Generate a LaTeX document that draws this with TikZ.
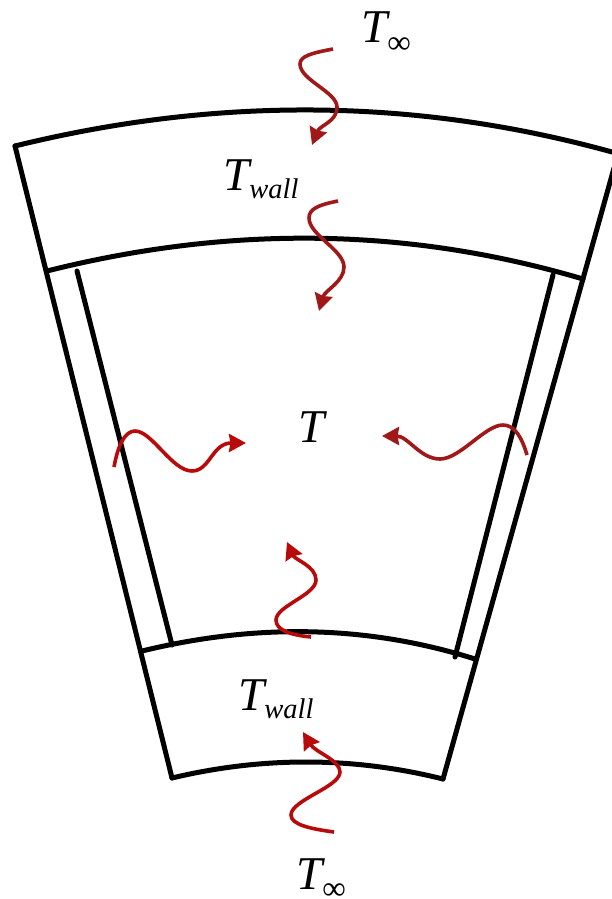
\documentclass[tikz,border=0pt]{standalone}
\usepackage{fontspec}
\setmainfont{Liberation Serif}
\usetikzlibrary{arrows.meta}
\tikzset{
  wall/.style={draw=black,line width=5pt,line cap=round,line join=miter},
  heat/.style={draw=heatred,line width=3.6pt,-{Stealth[length=17pt,width=18pt,inset=1.5pt]}},
  heatdark/.style={heat,draw=heatdark},
  lbl/.style={anchor=base west,inner sep=0pt,font=\fontsize{47}{47}\selectfont\itshape}
}
\definecolor{heatred}{HTML}{B80A0A}
\definecolor{heatdark}{HTML}{A01818}
\newcommand{\subtxt}[1]{\raisebox{-8pt}{\fontsize{28.5}{28.5}\selectfont #1}}
\newcommand{\subinf}{\raisebox{-10.5pt}{\fontsize{33}{33}\selectfont\upshape ∞}}
\begin{document}
\begin{tikzpicture}[x=1pt,y=-1pt]
\useasboundingbox (0,0) rectangle (612,899);
\clip (0,0) rectangle (612,899);
% named corners
\coordinate (oTL) at (15,146);
\coordinate (oTR) at (612,152);
\coordinate (iTL) at (47,271);
\coordinate (iTR) at (583,279);
\coordinate (lTL) at (142,651);
\coordinate (lTR) at (475,659);
\coordinate (bL) at (172,778);
\coordinate (bR) at (443,779);
\coordinate (rTop) at (614,168);
% walls
\draw[wall] (oTL) .. controls (214,97) and (413,97) .. (oTR);
\draw[wall] (iTL) .. controls (226,226) and (404,226) .. (iTR);
\draw[wall] (lTL) .. controls (253,624) and (364,624) .. (lTR);
\draw[wall] (bL) .. controls (262,756.5) and (353,756.5) .. (bR);
\draw[wall] (oTL) -- (bL);
\draw[wall] (rTop) -- (bR);
\coordinate (liT) at (77,271);
\coordinate (liB) at (172,645);
\coordinate (riT) at (553,275);
\coordinate (riB) at (455,657);
\draw[wall] (liT) -- (liB);
\draw[wall] (riT) -- (riB);
% heat arrows
\coordinate (a1s) at (333,49); \coordinate (a1e) at (312,145);
\draw[heatdark] (a1s) .. controls (312,53) and (300,56) .. (300,64)
  .. controls (300,80) and (337,92) .. (337,107)
  .. controls (337,122) and (320,125) .. (a1e);
\coordinate (a2s) at (338,201); \coordinate (a2e) at (319,311);
\draw[heatdark] (a2s) .. controls (318,205) and (309,209) .. (309,218)
  .. controls (309,235) and (344,250) .. (344,267)
  .. controls (344,282) and (325,290) .. (a2e);
\coordinate (a3s) at (114,467); \coordinate (a3e) at (246,443);
\draw[heat] (a3s) .. controls (118,445) and (125,431) .. (135,431)
  .. controls (152,431) and (172,471) .. (192,471)
  .. controls (210,471) and (212,443) .. (a3e);
\coordinate (a4s) at (527,455); \coordinate (a4e) at (382,436);
\draw[heatdark] (a4s) .. controls (522,438) and (515,425) .. (503,425)
  .. controls (485,425) and (460,459) .. (440,459)
  .. controls (420,459) and (408,436) .. (a4e);
\coordinate (a5s) at (311,637); \coordinate (a5e) at (287,542);
\draw[heat] (a5s) .. controls (290,635) and (276,630) .. (276,620)
  .. controls (276,606) and (316,595) .. (316,580)
  .. controls (316,566) and (295,560) .. (a5e);
\coordinate (a6s) at (334,832); \coordinate (a6e) at (303,732);
\draw[heat] (a6s) .. controls (312,829) and (291,825) .. (291,815)
  .. controls (291,800) and (340,787) .. (340,772)
  .. controls (340,760) and (315,752) .. (a6e);
% labels
\node[lbl] (tinftop) at (361,43) {T\subinf};
\node[lbl] (twalltop) at (223,190) {T\subtxt{wall}};
\node[lbl] (tmid) at (298,442) {T};
\node[lbl] (twallbot) at (238,710) {T\subtxt{wall}};
\node[lbl] (tinfbot) at (296,889) {T\subinf};
\end{tikzpicture}
\end{document}
